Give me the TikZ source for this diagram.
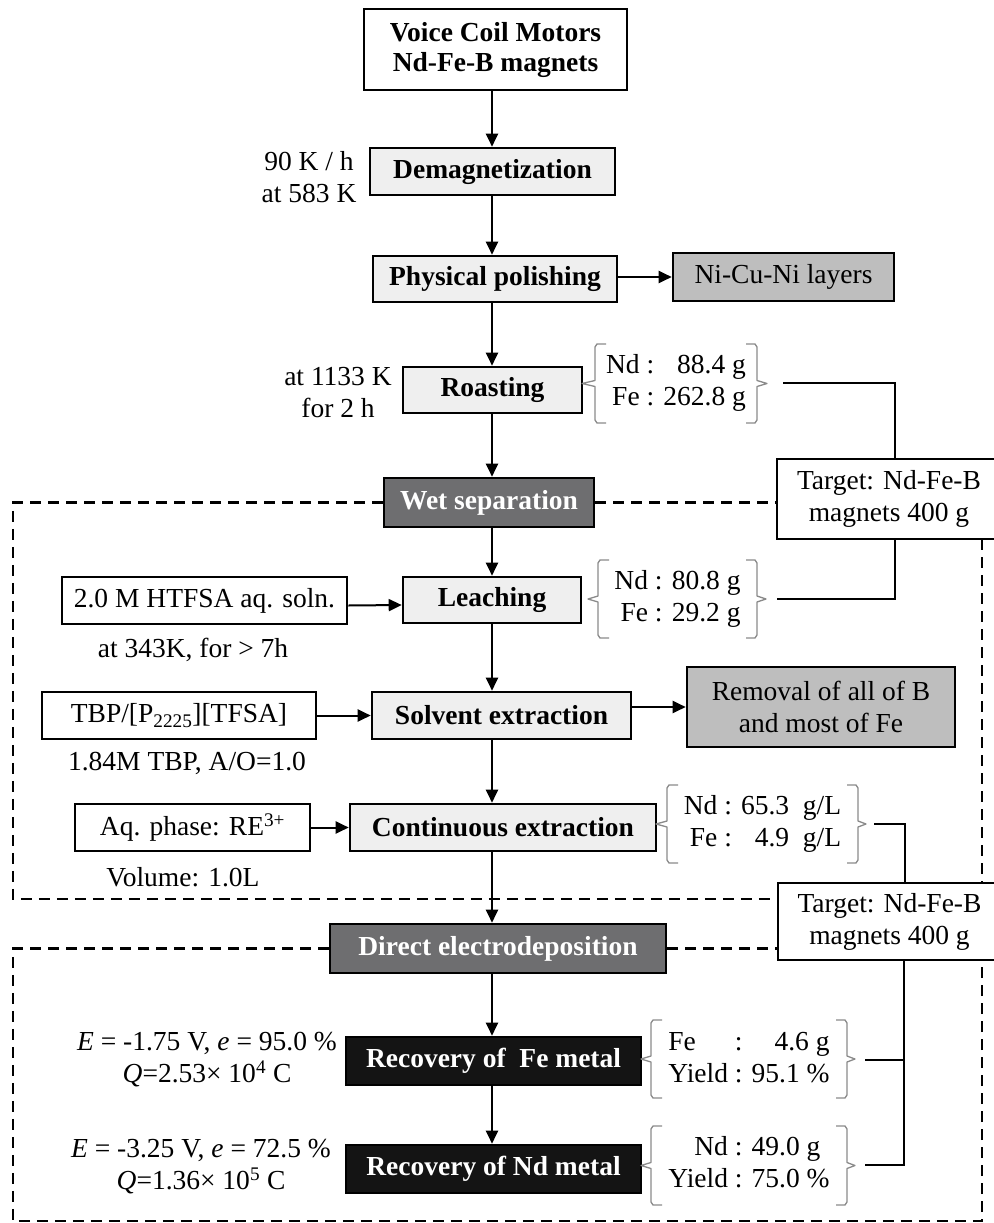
\documentclass[tikz,border=0pt]{standalone}
\usepackage{fontspec}
\setmainfont{Liberation Serif}
\usetikzlibrary{arrows.meta,calc}
\definecolor{light}{HTML}{EFEFEF}
\definecolor{mgray}{HTML}{BEBEBE}
\definecolor{dgray}{HTML}{6E6E70}
\definecolor{brgray}{HTML}{8A8A8A}
\newcommand{\brL}[4]{%
 \draw[brc] ({#1+11},#2) -- ({#1+2},#2) -- (#1,{#2+3}) -- (#1,{(#2+#3)/2-3}) -- (#4,{(#2+#3)/2}) -- (#1,{(#2+#3)/2+3}) -- (#1,{#3-3}) -- ({#1+2},#3) -- ({#1+11},#3);}
\newcommand{\brR}[4]{%
 \draw[brc] ({#1-11},#2) -- ({#1-2},#2) -- (#1,{#2+3}) -- (#1,{(#2+#3)/2-3}) -- (#4,{(#2+#3)/2}) -- (#1,{(#2+#3)/2+3}) -- (#1,{#3-3}) -- ({#1-2},#3) -- ({#1-11},#3);}
\begin{document}
\begin{tikzpicture}[x=1pt,y=-1pt,
  every node/.style={font=\fontsize{27.5}{32}\selectfont},
  box/.style={draw, line width=2.6pt, inner sep=0pt, align=center, font=\fontsize{27.5}{30}\selectfont\bfseries},
  lt/.style={box, fill=light},
  wt/.style={box, fill=white},
  gr/.style={draw, line width=2.6pt, inner sep=0pt, align=center, fill=mgray},
  pl/.style={draw, line width=2.6pt, inner sep=0pt, align=center, fill=white},
  dk/.style={box, fill=dgray, text=white},
  bk/.style={box, fill=black!92, text=white},
  txt/.style={align=center, inner sep=0pt},
  arr/.style={line width=2pt, -{Triangle[length=13pt,width=12pt]}},
  dsh/.style={line width=2.6pt, dash pattern=on 11pt off 7pt},
  brc/.style={line width=1.3pt, draw=brgray, line join=round},
  link/.style={line width=2.6pt}]
\useasboundingbox (0,0) rectangle (993,1223);
\coordinate (colx) at (492,0);
% main column
\node[wt, minimum width=263, minimum height=81] (voice) at (495.5,49.5) {Voice Coil Motors\\Nd-Fe-B magnets};
\node[lt, minimum width=245, minimum height=47] (demag) at (492.5,171.5) {Demagnetization};
\node[lt, minimum width=244, minimum height=46] (phys) at (495,279) {Physical polishing};
\node[gr, minimum width=221, minimum height=48] (nicu) at (783.5,277) {Ni-Cu-Ni layers};
\node[lt, minimum width=179, minimum height=46] (roast) at (492.5,390) {Roasting};
\node[dk, minimum width=210, minimum height=49] (wet) at (489,502.5) {Wet separation};
\node[pl, minimum width=224, minimum height=80] (tg1) at (889,499) {Target: Nd-Fe-B\\magnets 400 g};
\node[pl, minimum width=285, minimum height=47] (htfsa) at (204.5,600.5) {2.0 M HTFSA aq. soln.};
\node[lt, minimum width=178, minimum height=46] (leach) at (492,600) {Leaching};
\node[pl, minimum width=274, minimum height=47] (tbp) at (179,715.5) {TBP/[P\textsubscript{2225}][TFSA]};
\node[lt, minimum width=259, minimum height=47] (solv) at (501.5,715.5) {Solvent extraction};
\node[gr, minimum width=268, minimum height=80] (remo) at (821,707) {Removal of all of B\\and most of Fe};
\node[pl, minimum width=235, minimum height=47] (aq) at (192.5,827.5) {Aq. phase: RE\textsuperscript{3+}};
\node[lt, minimum width=306, minimum height=47] (cont) at (503,827.5) {Continuous extraction};
\node[pl, minimum width=223, minimum height=77] (tg2) at (889.5,921.5) {Target: Nd-Fe-B\\magnets 400 g};
\node[dk, minimum width=336, minimum height=49] (direct) at (498,948.5) {Direct electrodeposition};
\node[bk, minimum width=295, minimum height=48] (recfe) at (493.5,1061) {Recovery of\ \ Fe metal};
\node[bk, minimum width=295, minimum height=48] (recnd) at (493.5,1169) {Recovery of Nd metal};
% side texts
\node[txt] (t90) at (309,177) {90 K / h\\at 583 K};
\node[txt] (t1133) at (338,393) {at 1133 K\\for 2 h};
\node[txt] (t343) at (193,650) {at 343K, for > 7h};
\node[txt] (t184) at (187,763) {1.84M TBP, A/O=1.0};
\node[txt] (tvol) at (183,877) {Volume: 1.0L};
\node[txt] (tfe) at (207,1060) {\textit{E} = -1.75 V, \textit{e} = 95.0 \%\\\textit{Q}=2.53×\ 10\textsuperscript{4} C};
\node[txt] (tnd) at (201,1167) {\textit{E} = -3.25 V, \textit{e} = 72.5 \%\\\textit{Q}=1.36×\ 10\textsuperscript{5} C};
% bracket contents
\node[txt] (b1) at (676,383) {\begin{tabular}{@{}r@{ : }r@{}}Nd & 88.4 g\\Fe & 262.8 g\end{tabular}};
\node[txt] (b2) at (677.5,599) {\begin{tabular}{@{}r@{ : }r@{}}Nd & 80.8 g\\Fe & 29.2 g\end{tabular}};
\node[txt] (b3) at (762.5,824) {\begin{tabular}{@{}r@{ : }r@{\ \ }l@{}}Nd & 65.3 & g/L\\Fe & 4.9 & g/L\end{tabular}};
\node[txt] (b4) at (749,1060) {\begin{tabular}{@{}l@{ : }r@{}}Fe & 4.6 g\\Yield & 95.1 \%\end{tabular}};
\node[txt] (b5) at (749,1165) {\begin{tabular}{@{}r@{ : }l@{}}Nd & 49.0 g\\Yield & 75.0 \%\end{tabular}};
% braces
\brL{595}{344}{423}{582} \brR{757}{344}{423}{767}
\brL{598}{560}{638}{588} \brR{757}{560}{638}{766}
\brL{667}{785}{863}{656} \brR{858}{785}{863}{866}
\brL{651}{1020}{1098}{641} \brR{847}{1020}{1098}{855}
\brL{651}{1126}{1205}{641} \brR{847}{1126}{1205}{855}
% vertical arrows
\draw[arr] (voice.south -| colx) -- (demag.north -| colx);
\draw[arr] (demag.south -| colx) -- (phys.north -| colx);
\draw[arr] (phys.south -| colx) -- (roast.north -| colx);
\draw[arr] (roast.south -| colx) -- (wet.north -| colx);
\draw[arr] (wet.south -| colx) -- (leach.north -| colx);
\draw[arr] (leach.south -| colx) -- (solv.north -| colx);
\draw[arr] (solv.south -| colx) -- (cont.north -| colx);
\draw[arr] (cont.south -| colx) -- (direct.north -| colx);
\draw[arr] (direct.south -| colx) -- (recfe.north -| colx);
\draw[arr] (recfe.south -| colx) -- (recnd.north -| colx);
% horizontal arrows
\draw[arr] (phys.east |- nicu.west) -- (nicu.west);
\draw[arr] ([yshift=-5pt]htfsa.east) -- ([yshift=-5pt]leach.west);
\draw[arr] (tbp.east) -- (tbp.east -| solv.west);
\draw[arr] (solv.east |- remo.west) -- (remo.west);
\draw[arr] (aq.east) -- (aq.east -| cont.west);
% links to targets
\coordinate (e1) at (783,383); \coordinate (k1) at (895,383);
\coordinate (e2) at (777,599); \coordinate (k2) at (895,599);
\coordinate (e3) at (874,824); \coordinate (k3) at (905,824);
\coordinate (e4) at (865,1060); \coordinate (k4) at (904,1060);
\coordinate (e5) at (865,1165); \coordinate (k5) at (904,1165);
\draw[link] (e1) -- (k1) -- (k1 |- tg1.north);
\draw[link] (e2) -- (k2) -- (k2 |- tg1.south);
\draw[link] (e3) -- (k3) -- (k3 |- tg2.north);
\draw[link] (e4) -- (k4);
\draw[link] (e5) -- (k5) -- (k5 |- tg2.south);
% dashed frames
\coordinate (fl1) at (13,502.5); \coordinate (fl2) at (13,899);
\coordinate (fr1) at (982,539); \coordinate (fr2) at (982,883);
\draw[dsh] (wet.west) -- (fl1) -- (fl2) -- (fl2 -| tg2.west);
\draw[dsh] (wet.east) -- (wet.east -| tg1.west);
\draw[dsh] (fr1) -- (fr2);
\coordinate (gl1) at (13,948.5); \coordinate (gl2) at (13,1221);
\coordinate (gr2) at (982,1221); \coordinate (gr1) at (982,960);
\draw[dsh] (direct.west) -- (gl1) -- (gl2) -- (gr2) -- (gr1);
\draw[dsh] (direct.east) -- (direct.east -| tg2.west);
\end{tikzpicture}
\end{document}
